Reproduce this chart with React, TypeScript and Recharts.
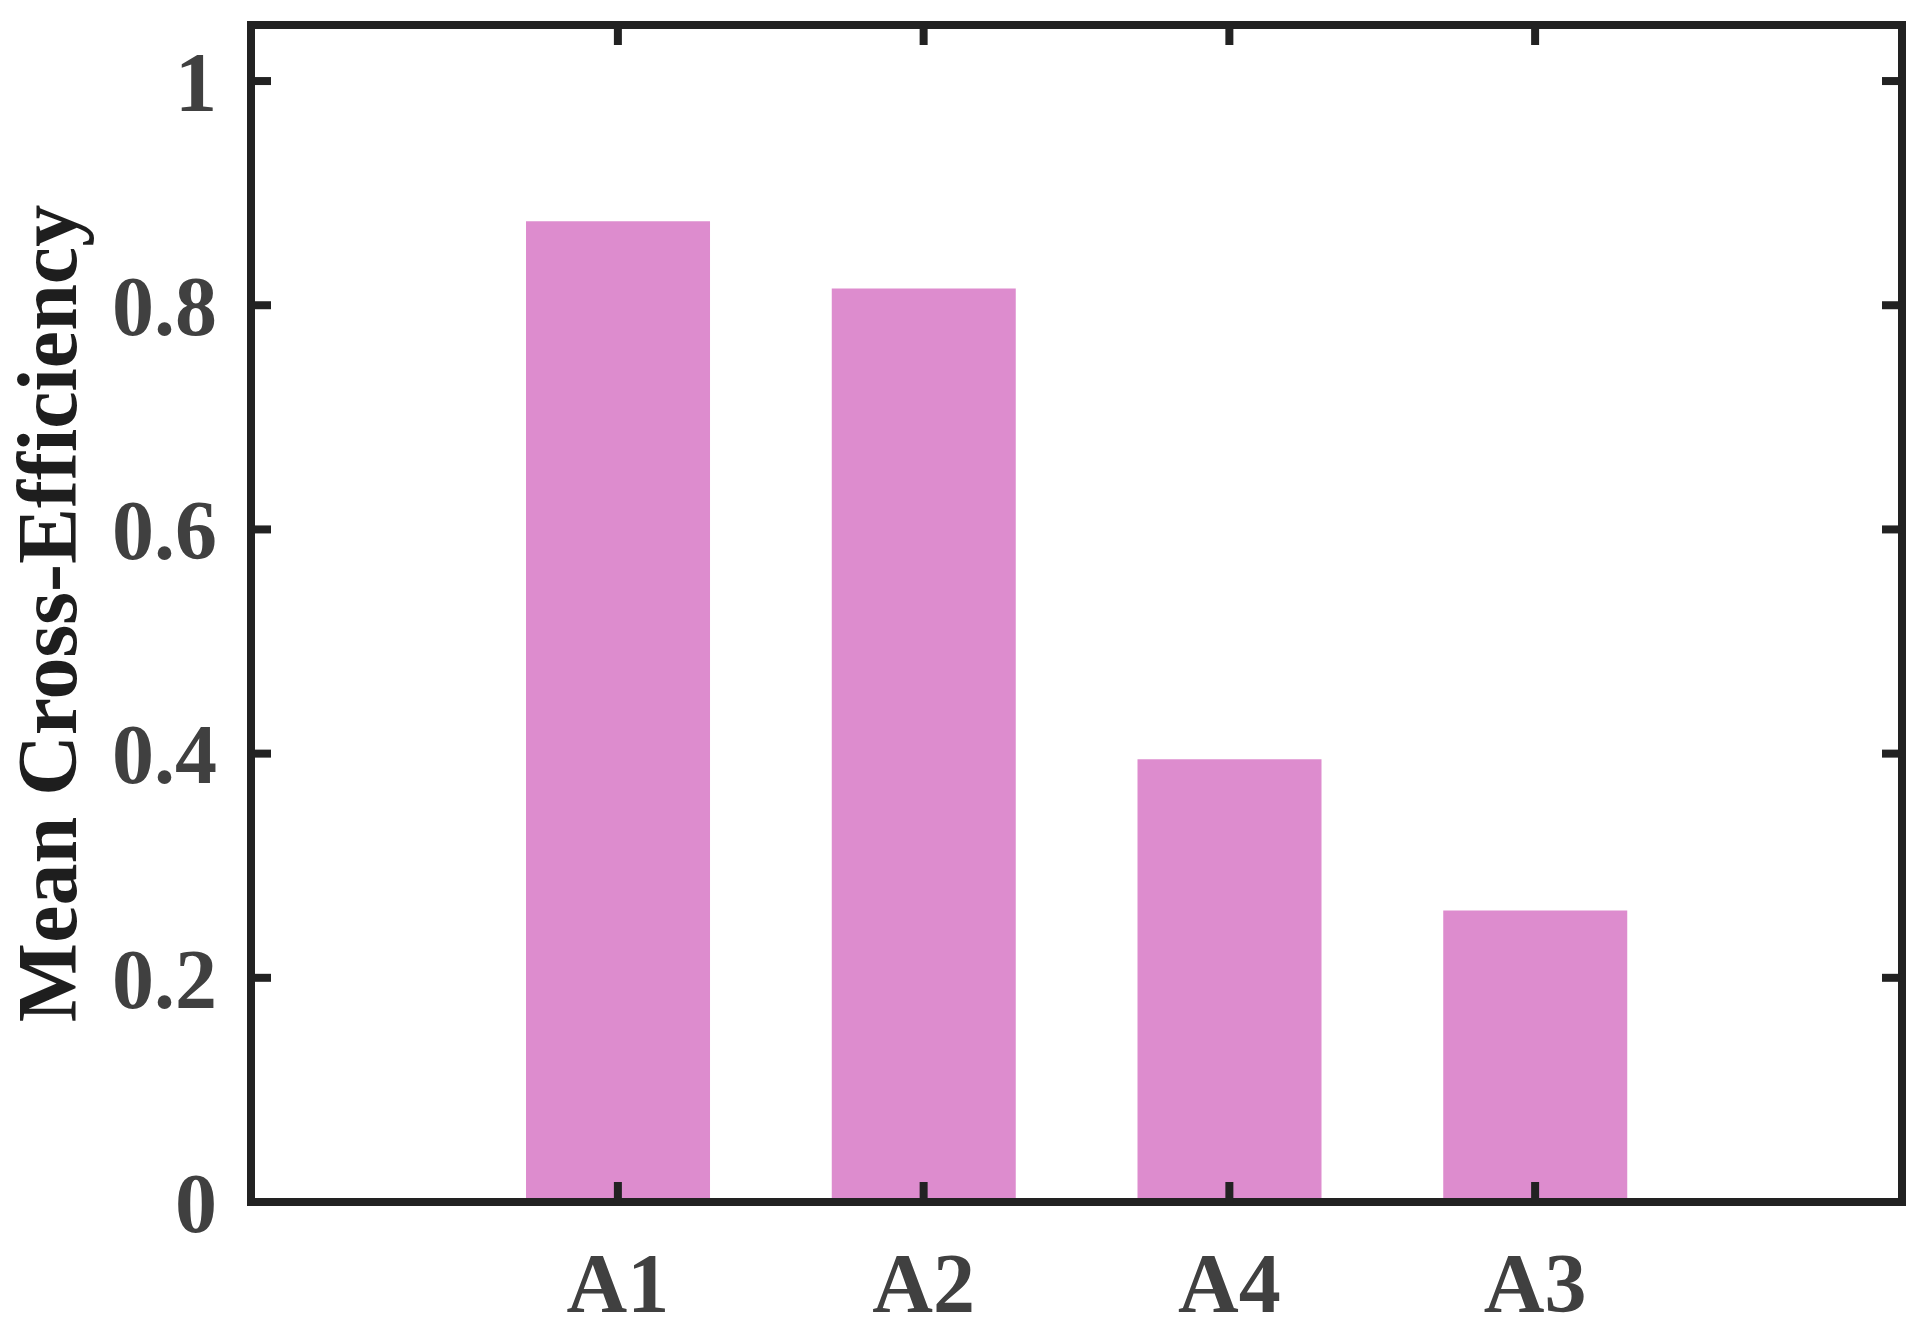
import React from 'react';
import { BarChart, Bar, XAxis, YAxis } from 'recharts';

const categories: string[] = ['A1', 'A2', 'A4', 'A3'];
const positions: number[] = [1, 2, 3, 4];
const meanCrossEfficiency: number[] = [0.875, 0.815, 0.395, 0.26];
const yTicks: number[] = [0, 0.2, 0.4, 0.6, 0.8, 1];
const xDomain: [number, number] = [-0.2, 5.2];
const yDomain: [number, number] = [0, 1.05];

const data = positions.map((p, i) => ({ pos: p, name: categories[i], value: meanCrossEfficiency[i] }));

const AXIS_COLOR = '#222222';
const TICK_COLOR = '#404040';
const FONT = 'Liberation Serif, Times New Roman, Times, Nimbus Roman, serif';

const axisLine = { stroke: AXIS_COLOR, strokeWidth: 8, strokeLinecap: 'square' as const };
const tickLine = { stroke: AXIS_COLOR, strokeWidth: 8 };
const tickStyle = { fontFamily: FONT, fontWeight: 700, fontSize: 84, fill: TICK_COLOR, style: { fontFamily: FONT } };
const EmptyTick = () => <g />;

const fmtX = (v: number) => {
  const i = positions.indexOf(v);
  return i >= 0 ? categories[i] : '';
};
const fmtY = (v: number) => String(Number(v.toFixed(1)));

export default function App() {
  return (
    <div style={{ position: 'absolute', left: 0, top: 0, width: 1925, height: 1325, background: '#fff', fontFamily: FONT }}>
      <BarChart
        width={1925}
        height={1325}
        data={data}
        margin={{ top: 24, right: 22, bottom: 0, left: 0 }}
      >
        <XAxis
          xAxisId="bottom"
          dataKey="pos"
          type="number"
          domain={xDomain}
          ticks={positions}
          tickFormatter={fmtX}
          orientation="bottom"
          height={123}
          axisLine={axisLine}
          tickLine={tickLine}
          tickSize={-20}
          tickMargin={70}
          tick={tickStyle}
          interval={0}
          allowDataOverflow
        />
        <XAxis
          xAxisId="top"
          dataKey="pos"
          type="number"
          domain={xDomain}
          ticks={positions}
          orientation="top"
          height={1}
          axisLine={axisLine}
          tickLine={tickLine}
          tickSize={-20}
          tick={EmptyTick}
          interval={0}
          allowDataOverflow
        />
        <YAxis
          yAxisId="left"
          type="number"
          domain={yDomain}
          ticks={yTicks}
          tickFormatter={fmtY}
          orientation="left"
          width={251}
          axisLine={axisLine}
          tickLine={tickLine}
          tickSize={-20}
          tickMargin={54}
          tick={tickStyle}
          interval={0}
          allowDataOverflow
          label={{
            value: 'Mean Cross-Efficiency',
            angle: -90,
            position: 'insideLeft',
            offset: 46,
            style: { textAnchor: 'middle', fontFamily: FONT, fontWeight: 700, fontSize: 84, fill: '#1e1e1e' },
          }}
        />
        <YAxis
          yAxisId="right"
          type="number"
          domain={yDomain}
          ticks={yTicks}
          orientation="right"
          width={1}
          axisLine={axisLine}
          tickLine={tickLine}
          tickSize={-20}
          tick={EmptyTick}
          interval={0}
          allowDataOverflow
        />
        <Bar
          xAxisId="bottom"
          yAxisId="left"
          dataKey="value"
          fill="#DD8CCE"
          barSize={184}
          isAnimationActive={false}
        />
      </BarChart>
    </div>
  );
}
